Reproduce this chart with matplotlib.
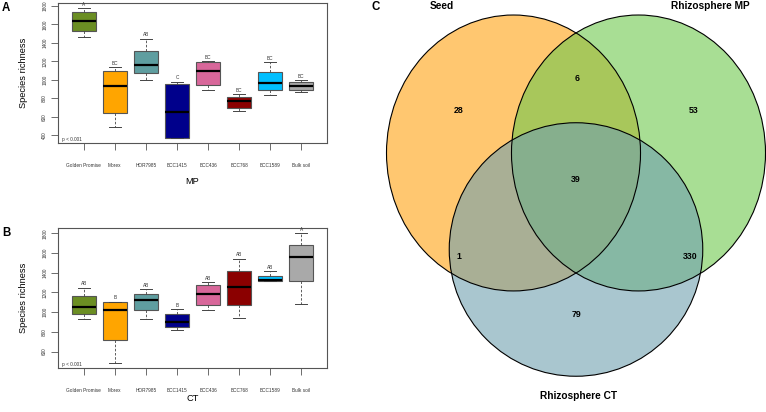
import matplotlib
matplotlib.use("Agg")
import matplotlib.pyplot as plt
from matplotlib.patches import Ellipse
import numpy as np

plt.rcParams['font.family'] = ['Liberation Sans', 'DejaVu Sans']

# ---------------- data ----------------
genotypes = ["Golden Promise", "Morex", "HOR7985", "BCC1415", "BCC436", "BCC768", "BCC1589", "Bulk soil"]
box_colors = ["#6B8E23", "#FFA500", "#5F9EA0", "#00008B", "#D8679A", "#8B0000", "#00BFFF", "#A9A9A9"]

# MP: whisker low, Q1, median, Q3, whisker high
mp_wlo = [1469, 489, 997, 370, 886, 662, 835, 864]
mp_q1 = [1527, 644, 1073, 374, 946, 698, 886, 892]
mp_med = [1635, 929, 1159, 655, 1091, 767, 962, 936]
mp_q3 = [1729, 1098, 1307, 957, 1188, 817, 1087, 972]
mp_whi = [1772, 1134, 1443, 979, 1199, 843, 1188, 994]
mp_letters = ["A", "BC", "AB", "C", "BC", "BC", "BC", "BC"]

# CT
ct_wlo = [928, 482, 928, 823, 1022, 945, 1314, 1080]
ct_q1 = [979, 715, 1026, 850, 1070, 1076, 1317, 1317]
ct_med = [1053, 1022, 1127, 901, 1188, 1253, 1324, 1560]
ct_q3 = [1164, 1100, 1182, 979, 1276, 1418, 1370, 1688]
ct_whi = [1249, 1107, 1232, 1030, 1303, 1540, 1415, 1800]
ct_letters = ["AB", "B", "AB", "B", "AB", "AB", "AB", "A"]

mp_ticks = [400, 600, 800, 1000, 1200, 1400, 1600, 1800]
ct_ticks = [600, 800, 1000, 1200, 1400, 1600, 1800]
p_text = "p < 0.001"

# Venn
venn_sets = ["Seed", "Rhizosphere MP", "Rhizosphere CT"]
venn_counts = {"seed_only": 28, "mp_only": 53, "ct_only": 79,
               "seed_mp": 6, "seed_ct": 1, "mp_ct": 330, "all": 39}
venn_colors = ["#FFA311", "#6EC84D", "#70A0AF"]

W, H = 766, 412
fig = plt.figure(figsize=(W / 100, H / 100), dpi=100)

TICK_FS = 3.4
LAB_FS = 6.7


def box_panel(rect, wlo, q1, med, q3, whi, letters, ticks, xlabel, xlab_y):
    ax = fig.add_axes(rect)
    stats = []
    for i in range(len(genotypes)):
        stats.append(dict(whislo=wlo[i], q1=q1[i], med=med[i], q3=q3[i], whishi=whi[i], fliers=[]))
    pos = np.arange(1, len(genotypes) + 1)
    bp = ax.bxp(stats, positions=pos, widths=0.78, patch_artist=True, showfliers=False,
                boxprops=dict(edgecolor="#555555", linewidth=0.8),
                medianprops=dict(color="black", linewidth=1.6),
                whiskerprops=dict(color="#444444", linewidth=0.6, linestyle=(0, (3, 2))),
                capprops=dict(color="#444444", linewidth=0.7), capwidths=0.4)
    for patch, c in zip(bp["boxes"], box_colors):
        patch.set_facecolor(c)
    lo = min(wlo)
    hi = max(whi)
    ext = (hi - lo) * 0.04
    ax.set_ylim(lo - ext, hi + ext)
    ax.set_xlim(0.5 - 8 * 0.04, 8.5 + 8 * 0.04)
    ax.set_xticks(pos)
    ax.set_xticklabels(genotypes, fontsize=TICK_FS, color="#333333")
    ax.set_yticks(ticks)
    ax.set_yticklabels([str(t) for t in ticks], fontsize=TICK_FS, rotation=90, va="center", color="#333333")
    ax.tick_params(axis="x", length=5, width=0.6, color="#555555", pad=9)
    ax.tick_params(axis="y", length=5, width=0.6, color="#555555", pad=3)
    for s in ax.spines.values():
        s.set_color("#555555")
        s.set_linewidth(0.8)
    rng = (hi - lo) * 1.08
    for i, l in enumerate(letters):
        ax.text(pos[i], whi[i] + rng * 0.012, l, ha="center", va="bottom", fontsize=TICK_FS, color="#333333")
    ax.text(0.014, 0.028, p_text, transform=ax.transAxes, fontsize=TICK_FS, ha="left", va="center",
            color="#333333")
    ax.set_ylabel("Species richness", fontsize=LAB_FS, labelpad=10)
    ax.set_xlabel(xlabel, fontsize=LAB_FS, va="center")
    ax.xaxis.set_label_coords(0.5, xlab_y)
    return ax


axA = box_panel([58.3 / W, 1 - 143.3 / H, 268.4 / W, 140 / H],
                mp_wlo, mp_q1, mp_med, mp_q3, mp_whi, mp_letters, mp_ticks, "MP", -0.274)
axB = box_panel([58.3 / W, 1 - 368.3 / H, 268.4 / W, 140 / H],
                ct_wlo, ct_q1, ct_med, ct_q3, ct_whi, ct_letters, ct_ticks, "CT", -0.214)

fig.text(2 / W, 1 - 8 / H, "A", fontsize=8.3, fontweight="bold", ha="left", va="center")
fig.text(2 / W, 1 - 232.7 / H, "B", fontsize=8.3, fontweight="bold", ha="left", va="center")
fig.text(371 / W, 1 - 7 / H, "C", fontsize=8.3, fontweight="bold", ha="left", va="center")

# ---------------- Venn ----------------
S = 126.0  # px per unit
ox, oy = 576.0, 140.0
axV = fig.add_axes([376 / W, 0, (W - 376) / W, 1])
axV.set_xlim((376 - ox) / S, (W - ox) / S)
axV.set_ylim((oy - H) / S, oy / S)
axV.axis("off")
# ellipse layout (center x, center y, width, height) in venn units
shapes = [(-0.496, -0.103, 2.016, 2.19),
          (0.496, -0.103, 2.016, 2.19),
          (0.0, -0.869, 2.012, 2.012)]
for (cx, cy, w, h), col in zip(shapes, venn_colors):
    axV.add_patch(Ellipse((cx, cy), w, h, facecolor=col, alpha=0.6, edgecolor="none"))
for (cx, cy, w, h) in shapes:
    axV.add_patch(Ellipse((cx, cy), w, h, facecolor="none", edgecolor="black", linewidth=0.8))

num_pos = {"seed_only": (-0.929, 0.238), "seed_mp": (0.008, 0.492), "mp_only": (0.937, 0.238),
           "all": (0.0, -0.317), "seed_ct": (-0.929, -0.921), "mp_ct": (0.905, -0.921),
           "ct_only": (0.0, -1.381)}
for k, v in venn_counts.items():
    x, y = num_pos[k]
    axV.text(x, y, str(v), ha="center", va="center", fontsize=6.3, fontweight="bold")

axV.text(-1.063, 1.063, venn_sets[0], ha="center", va="center", fontsize=7.3, fontweight="bold")
axV.text(1.063, 1.063, venn_sets[1], ha="center", va="center", fontsize=7.3, fontweight="bold")
axV.text(0.02, -2.03, venn_sets[2], ha="center", va="center", fontsize=7.3, fontweight="bold")

fig.savefig("out.png", dpi=100)
